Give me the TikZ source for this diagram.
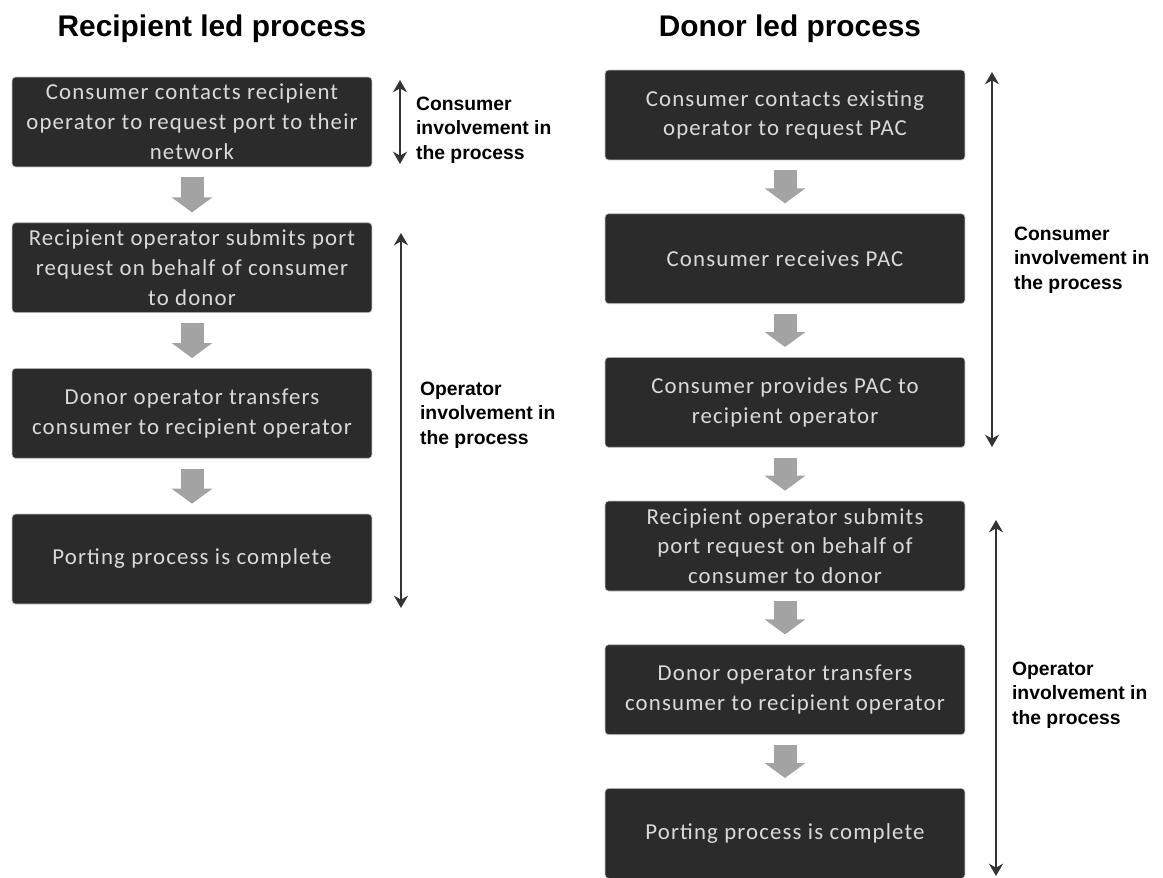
\documentclass[tikz,border=0pt]{standalone}
\usepackage{fontspec}
\usepackage{xcolor}
\usepackage{tikz}
\usetikzlibrary{arrows.meta, positioning, calc}
\setmainfont{Liberation Sans}
\newfontfamily\boxfont[LetterSpace=5]{Carlito}
\definecolor{boxdark}{HTML}{2B2B2B}
\definecolor{boxtext}{HTML}{DADADA}
\definecolor{flowgray}{HTML}{A3A3A3}
\tikzset{
    box/.style={rectangle, draw=gray!45, fill=boxdark, rounded corners=2pt, minimum width=7.2cm, minimum height=1.8cm, inner sep=2pt, align=center, text=boxtext, font=\boxfont\fontsize{13}{17}\selectfont},
    flow/.style={draw=flowgray, line width=0.46cm, -{Triangle[width=0.8cm, length=0.3cm]}, shorten <=0.2cm, shorten >=0.2cm},
    span/.style={line width=1.2pt, black!80, {Stealth[length=7pt, width=8pt]}-{Stealth[length=7pt, width=8pt]}},
    note/.style={anchor=west, align=left, inner sep=1pt, font=\bfseries\fontsize{11}{14}\selectfont},
    heading/.style={anchor=base, font=\bfseries\fontsize{17}{20}\selectfont}
}

\begin{document}
\begin{tikzpicture}[x=0.02cm, y=-0.02cm, node distance=1.1cm, >=stealth]
    \useasboundingbox (0,0) rectangle (1163,878);

    % headings
    \node (rtitle) [heading] at (212,37) {Recipient led process};
    \node (dtitle) [heading] at (790,37) {Donor led process};

    % recipient led column
    \node (r1) [box] at (192,122) {Consumer contacts recipient\\operator to request port to their\\network};
    \node (r2) [box, below=of r1] {Recipient operator submits port\\request on behalf of consumer\\to donor};
    \node (r3) [box, below=of r2] {Donor operator transfers\\consumer to recipient operator};
    \node (r4) [box, below=of r3] {Porting process is complete};

    \draw [flow] (r1) -- (r2);
    \draw [flow] (r2) -- (r3);
    \draw [flow] (r3) -- (r4);

    % donor led column
    \node (d1) [box] at (785,115) {Consumer contacts existing\\operator to request PAC};
    \node (d2) [box, below=1.06cm of d1] {Consumer receives PAC};
    \node (d3) [box, below=1.06cm of d2] {Consumer provides PAC to\\recipient operator};
    \node (d4) [box, below=1.06cm of d3] {Recipient operator submits\\port request on behalf of\\consumer to donor};
    \node (d5) [box, below=1.06cm of d4] {Donor operator transfers\\consumer to recipient operator};
    \node (d6) [box, below=1.06cm of d5] {Porting process is complete};

    \draw [flow] (d1) -- (d2);
    \draw [flow] (d2) -- (d3);
    \draw [flow] (d3) -- (d4);
    \draw [flow] (d4) -- (d5);
    \draw [flow] (d5) -- (d6);

    % involvement spans
    \coordinate (rtop1) at (400,80);
    \coordinate (rbot1) at (400,164);
    \coordinate (rtop2) at (401,233);
    \coordinate (rbot2) at (401,608);
    \coordinate (dtop1) at (992,72);
    \coordinate (dbot1) at (992,447);
    \coordinate (dtop2) at (996,520);
    \coordinate (dbot2) at (996,876);

    \draw [span] (rtop1) -- (rbot1);
    \draw [span] (rtop2) -- (rbot2);
    \draw [span] (dtop1) -- (dbot1);
    \draw [span] (dtop2) -- (dbot2);

    \node (rnote1) [note] at (414,130) {Consumer\\involvement in\\the process};
    \node (rnote2) [note] at (418,415) {Operator\\involvement in\\the process};
    \node (dnote1) [note] at (1012,260) {Consumer\\involvement in\\the process};
    \node (dnote2) [note] at (1010,695) {Operator\\involvement in\\the process};
\end{tikzpicture}
\end{document}
